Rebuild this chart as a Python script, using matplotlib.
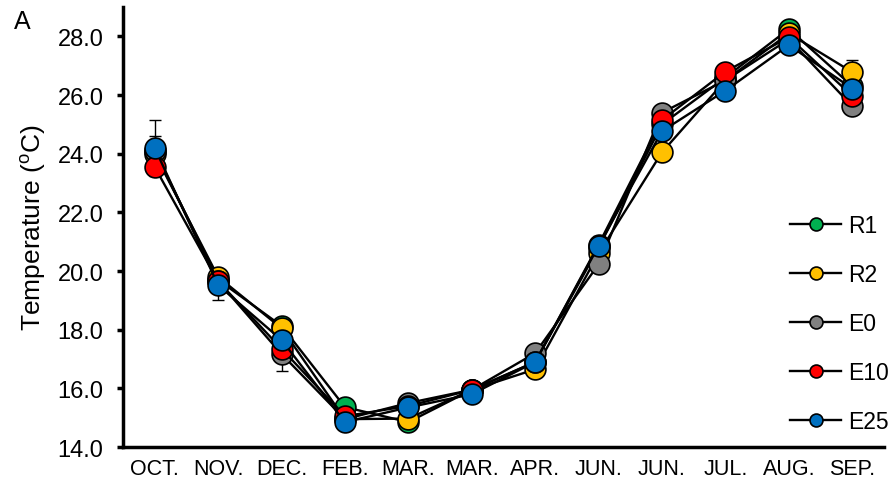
import matplotlib
matplotlib.use("Agg")
import matplotlib.pyplot as plt
import numpy as np

plt.rcParams['font.family'] = ['Liberation Sans', 'DejaVu Sans']

# months on the x axis (two samplings in MAR. and JUN.)
months = ['OCT.', 'NOV.', 'DEC.', 'FEB.', 'MAR.', 'MAR.', 'APR.', 'JUN.', 'JUN.', 'JUL.', 'AUG.', 'SEP.']

# mean temperature per treatment
r1 = [24.1, 19.7, 18.13, 15.36, 14.85, 15.95, 16.9, 20.8, 25.0, 26.6, 28.25, 26.3]
r2 = [24.0, 19.8, 18.05, 14.95, 14.97, 15.95, 16.65, 20.6, 24.05, 26.5, 28.1, 26.78]
e0 = [24.1, 19.65, 17.17, 14.95, 15.5, 15.95, 17.2, 20.23, 25.4, 26.5, 27.9, 25.62]
e10 = [23.55, 19.65, 17.35, 15.05, 15.4, 15.95, 16.9, 20.9, 25.15, 26.8, 27.97, 25.97]
e25 = [24.2, 19.52, 17.65, 14.85, 15.35, 15.8, 16.9, 20.86, 24.77, 26.15, 27.7, 26.22]

# standard errors (most are hidden behind the markers)
r1_err = [0.5, 0.2, 0.2, 0.15, 0.15, 0.1, 0.15, 0.2, 0.2, 0.2, 0.15, 0.2]
r2_err = [0.2, 0.2, 0.2, 0.15, 0.15, 0.1, 0.15, 0.2, 0.2, 0.2, 0.15, 0.4]
e0_err = [0.2, 0.2, 0.57, 0.15, 0.15, 0.1, 0.15, 0.2, 0.2, 0.2, 0.15, 0.2]
e10_err = [0.2, 0.2, 0.2, 0.15, 0.15, 0.1, 0.15, 0.2, 0.2, 0.2, 0.15, 0.2]
e25_err = [0.95, 0.5, 0.2, 0.15, 0.15, 0.1, 0.15, 0.35, 0.2, 0.2, 0.15, 0.2]

names = ['R1', 'R2', 'E0', 'E10', 'E25']
colors = ['#00B050', '#FFC000', '#808080', '#FF0000', '#0070C0']
series = [r1, r2, e0, e10, e25]
errs = [r1_err, r2_err, e0_err, e10_err, e25_err]

fig = plt.figure(figsize=(8.95, 4.89), dpi=100)
ax = fig.add_axes([0.1374, 0.0838, 0.8503, 0.8998])

x = np.arange(len(months))
for i in range(len(series)):
    ax.errorbar(x, series[i], yerr=errs[i], fmt='none', ecolor='black',
                elinewidth=1, capsize=4.5, capthick=1, zorder=1)
for i in range(len(series)):
    ax.plot(x, series[i], color='black', lw=1.7, marker='o', ms=15,
            mfc=colors[i], mec='black', mew=1.2, label=names[i], zorder=2 + i)

ax.set_xlim(-0.5, 11.5)
ax.set_ylim(14, 29)
ax.set_yticks(np.arange(14, 29, 2))
ax.set_yticklabels(['%.1f' % v for v in np.arange(14, 29, 2)], fontsize=17)
ax.set_xticks(x)
ax.set_xticklabels(months, fontsize=15.5)
ax.tick_params(axis='x', length=0, pad=8)
ax.tick_params(axis='y', length=4.5, width=2.5, pad=9.5)
for s in ['top', 'right']:
    ax.spines[s].set_visible(False)
for s in ['left', 'bottom']:
    ax.spines[s].set_linewidth(2.5)
ax.set_ylabel(r'Temperature ($\mathregular{^o}$C)', fontsize=19, labelpad=7)

leg = ax.legend(loc='lower right', bbox_to_anchor=(1.018, 0.01), frameon=False,
                fontsize=16.5, markerscale=0.62, handlelength=2.2, handletextpad=0.3,
                labelspacing=1.14, borderaxespad=0)

fig.text(0.016, 0.955, 'A', fontsize=18, ha='left', va='center')

fig.savefig('out.png', dpi=100)
